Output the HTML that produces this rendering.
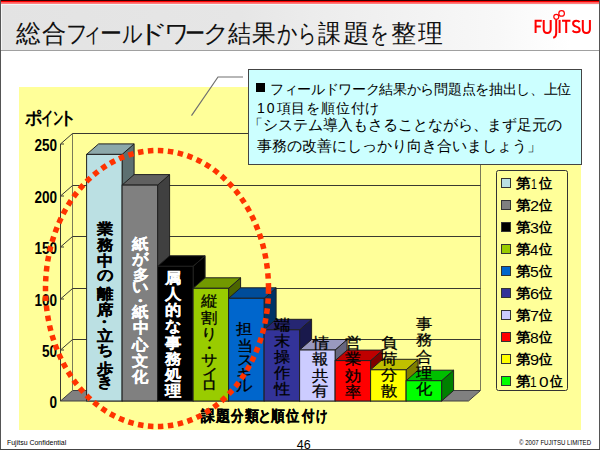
<!DOCTYPE html>
<html><head><meta charset="utf-8">
<style>
html,body{margin:0;padding:0;}
body{width:600px;height:450px;overflow:hidden;position:relative;background:#fff;font-family:"Liberation Sans",sans-serif;}
.abs{position:absolute;}
.fc{position:absolute;white-space:pre;transform-origin:0 0;color:#000;}
#hdr{position:absolute;left:0;top:0;width:600px;height:50px;background:linear-gradient(to right,#e3e3e3 0%,#e6e6e6 40%,#ececec 52%,#f8f8f8 83%,#ffffff 95%);}
#red{position:absolute;left:0;top:0;width:600px;height:6px;background:linear-gradient(#3a0000 0px,#3a0000 1px,#ff0000 1px,#ff0000 2.2px,#ff5a5a 2.2px,#ff8a8a 4px,#f2f8f8 4px,#f2f8f8 5px,rgba(255,255,255,0) 5px);}
#hline{position:absolute;left:0;top:49.6px;width:600px;height:1.6px;background:#a0a0a0;}
#lb{position:absolute;left:0;top:0;width:1px;height:450px;background:#555;}
#rb{position:absolute;left:599px;top:0;width:1px;height:450px;background:#555;}
#bb{position:absolute;left:0;top:449px;width:600px;height:1px;background:#444;}
#yel{position:absolute;left:19px;top:87px;width:562px;height:343px;background:#ffff99;}
#call{position:absolute;left:248px;top:69px;width:332px;height:94px;background:#ccffff;border:1px solid #444;}
.cl{position:absolute;white-space:nowrap;color:#000;}
.vc{position:absolute;white-space:pre;font-size:16px;line-height:16px;font-weight:bold;-webkit-text-stroke:0.25px currentColor;transform:scaleY(0.92);transform-origin:0 0;}
.sw{position:absolute;left:501.3px;width:7.3px;height:8.5px;border:1px solid #333;}
.ax{position:absolute;left:17px;width:40px;text-align:right;font-size:16.5px;line-height:16px;font-weight:bold;transform:scaleX(0.82);transform-origin:100% 0;}
</style></head><body>
<div id="hdr"></div>
<div id="red"></div>
<div id="hline"></div>
<div class="fc" style="left:15.50px;top:21.12px;font-size:25px;line-height:25px;font-weight:normal;transform:scaleX(0.990);color:#111">総</div><div class="fc" style="left:42.02px;top:21.12px;font-size:25px;line-height:25px;font-weight:normal;transform:scaleX(0.968);color:#111">合</div><div class="fc" style="left:66.25px;top:21.12px;font-size:25px;line-height:25px;font-weight:normal;transform:scaleX(0.857);color:#111">フ</div><div class="fc" style="left:82.26px;top:21.12px;font-size:25px;line-height:25px;font-weight:normal;transform:scaleX(0.807);color:#111">ィ</div><div class="fc" style="left:99.52px;top:21.12px;font-size:25px;line-height:25px;font-weight:normal;transform:scaleX(0.878);color:#111">ー</div><div class="fc" style="left:122.09px;top:21.12px;font-size:25px;line-height:25px;font-weight:normal;transform:scaleX(0.808);color:#111">ル</div><div class="fc" style="left:135.97px;top:21.12px;font-size:25px;line-height:25px;font-weight:normal;transform:scaleX(1.282);color:#111">ド</div><div class="fc" style="left:164.30px;top:21.12px;font-size:25px;line-height:25px;font-weight:normal;transform:scaleX(1.007);color:#111">ワ</div><div class="fc" style="left:184.69px;top:21.12px;font-size:25px;line-height:25px;font-weight:normal;transform:scaleX(0.805);color:#111">ー</div><div class="fc" style="left:203.29px;top:21.12px;font-size:25px;line-height:25px;font-weight:normal;transform:scaleX(1.032);color:#111">ク</div><div class="fc" style="left:227.82px;top:21.12px;font-size:25px;line-height:25px;font-weight:normal;transform:scaleX(0.929);color:#111">結</div><div class="fc" style="left:252.11px;top:21.12px;font-size:25px;line-height:25px;font-weight:normal;transform:scaleX(0.946);color:#111">果</div><div class="fc" style="left:276.79px;top:21.12px;font-size:25px;line-height:25px;font-weight:normal;transform:scaleX(0.808);color:#111">か</div><div class="fc" style="left:297.54px;top:21.12px;font-size:25px;line-height:25px;font-weight:normal;transform:scaleX(0.722);color:#111">ら</div><div class="fc" style="left:318.27px;top:21.12px;font-size:25px;line-height:25px;font-weight:normal;transform:scaleX(0.918);color:#111">課</div><div class="fc" style="left:342.90px;top:21.12px;font-size:25px;line-height:25px;font-weight:normal;transform:scaleX(1.067);color:#111">題</div><div class="fc" style="left:370.27px;top:21.12px;font-size:25px;line-height:25px;font-weight:normal;transform:scaleX(0.740);color:#111">を</div><div class="fc" style="left:390.94px;top:21.12px;font-size:25px;line-height:25px;font-weight:normal;transform:scaleX(1.008);color:#111">整</div><div class="fc" style="left:418.30px;top:21.12px;font-size:25px;line-height:25px;font-weight:normal;transform:scaleX(0.995);color:#111">理</div>
<div id="yel"></div>
<svg class="abs" style="left:0;top:0" width="600" height="450" viewBox="0 0 600 450">
<polygon points="60.5,401.0 468.5,401.0 480.5,390.5 72.5,390.5" fill="#808080" stroke="#404040" stroke-width="1"/>
<line x1="60.5" y1="144.0" x2="60.5" y2="401.0" stroke="#3a3a30" stroke-width="1"/>
<line x1="72.5" y1="133.5" x2="72.5" y2="390.5" stroke="#7a7a58" stroke-width="1"/>
<line x1="480.5" y1="133.5" x2="480.5" y2="390.5" stroke="#7a7a58" stroke-width="1"/>
<line x1="60.5" y1="350.0" x2="72.5" y2="339.5" stroke="#3a3a30" stroke-width="1"/>
<line x1="72.5" y1="339.5" x2="480.5" y2="339.5" stroke="#3a3a30" stroke-width="1"/>
<line x1="60.5" y1="350.0" x2="64.0" y2="350.0" stroke="#3a3a30" stroke-width="1"/>
<line x1="60.5" y1="299.0" x2="72.5" y2="288.5" stroke="#3a3a30" stroke-width="1"/>
<line x1="72.5" y1="288.5" x2="480.5" y2="288.5" stroke="#3a3a30" stroke-width="1"/>
<line x1="60.5" y1="299.0" x2="64.0" y2="299.0" stroke="#3a3a30" stroke-width="1"/>
<line x1="60.5" y1="247.0" x2="72.5" y2="236.5" stroke="#3a3a30" stroke-width="1"/>
<line x1="72.5" y1="236.5" x2="480.5" y2="236.5" stroke="#3a3a30" stroke-width="1"/>
<line x1="60.5" y1="247.0" x2="64.0" y2="247.0" stroke="#3a3a30" stroke-width="1"/>
<line x1="60.5" y1="196.0" x2="72.5" y2="185.5" stroke="#3a3a30" stroke-width="1"/>
<line x1="72.5" y1="185.5" x2="480.5" y2="185.5" stroke="#3a3a30" stroke-width="1"/>
<line x1="60.5" y1="196.0" x2="64.0" y2="196.0" stroke="#3a3a30" stroke-width="1"/>
<line x1="60.5" y1="144.0" x2="72.5" y2="133.5" stroke="#3a3a30" stroke-width="1"/>
<line x1="72.5" y1="133.5" x2="480.5" y2="133.5" stroke="#3a3a30" stroke-width="1"/>
<line x1="60.5" y1="144.0" x2="64.0" y2="144.0" stroke="#3a3a30" stroke-width="1"/>
<polygon points="122.1,154.4 134.1,143.9 134.1,390.5 122.1,401.0" fill="#5d7071" stroke="#202020" stroke-width="1" stroke-linejoin="round"/>
<polygon points="86.6,154.4 98.6,143.9 134.1,143.9 122.1,154.4" fill="#8ca8aa" stroke="#202020" stroke-width="1" stroke-linejoin="round"/>
<rect x="86.6" y="154.4" width="35.5" height="246.6" fill="#BBE0E3" stroke="#202020" stroke-width="1"/>
<polygon points="157.6,185.1 169.6,174.6 169.6,390.5 157.6,401.0" fill="#404040" stroke="#202020" stroke-width="1" stroke-linejoin="round"/>
<polygon points="122.1,185.1 134.1,174.6 169.6,174.6 157.6,185.1" fill="#606060" stroke="#202020" stroke-width="1" stroke-linejoin="round"/>
<rect x="122.1" y="185.1" width="35.5" height="215.9" fill="#808080" stroke="#202020" stroke-width="1"/>
<polygon points="193.1,266.3 205.1,255.8 205.1,390.5 193.1,401.0" fill="#000000" stroke="#202020" stroke-width="1" stroke-linejoin="round"/>
<polygon points="157.6,266.3 169.6,255.8 205.1,255.8 193.1,266.3" fill="#000000" stroke="#202020" stroke-width="1" stroke-linejoin="round"/>
<rect x="157.6" y="266.3" width="35.5" height="134.7" fill="#000000" stroke="#202020" stroke-width="1"/>
<polygon points="228.6,288.3 240.6,277.8 240.6,390.5 228.6,401.0" fill="#4c6600" stroke="#202020" stroke-width="1" stroke-linejoin="round"/>
<polygon points="193.1,288.3 205.1,277.8 240.6,277.8 228.6,288.3" fill="#729900" stroke="#202020" stroke-width="1" stroke-linejoin="round"/>
<rect x="193.1" y="288.3" width="35.5" height="112.69999999999999" fill="#99CC00" stroke="#202020" stroke-width="1"/>
<polygon points="264.1,298.3 276.1,287.8 276.1,390.5 264.1,401.0" fill="#003366" stroke="#202020" stroke-width="1" stroke-linejoin="round"/>
<polygon points="228.6,298.3 240.6,287.8 276.1,287.8 264.1,298.3" fill="#004c99" stroke="#202020" stroke-width="1" stroke-linejoin="round"/>
<rect x="228.6" y="298.3" width="35.5" height="102.69999999999999" fill="#0066CC" stroke="#202020" stroke-width="1"/>
<polygon points="299.6,329.8 311.6,319.3 311.6,390.5 299.6,401.0" fill="#19194c" stroke="#202020" stroke-width="1" stroke-linejoin="round"/>
<polygon points="264.1,329.8 276.1,319.3 311.6,319.3 299.6,329.8" fill="#262672" stroke="#202020" stroke-width="1" stroke-linejoin="round"/>
<rect x="264.1" y="329.8" width="35.5" height="71.19999999999999" fill="#333399" stroke="#202020" stroke-width="1"/>
<polygon points="335.1,350.0 347.1,339.5 347.1,390.5 335.1,401.0" fill="#66667f" stroke="#202020" stroke-width="1" stroke-linejoin="round"/>
<polygon points="299.6,350.0 311.6,339.5 347.1,339.5 335.1,350.0" fill="#9999bf" stroke="#202020" stroke-width="1" stroke-linejoin="round"/>
<rect x="299.6" y="350.0" width="35.5" height="51.0" fill="#CCCCFF" stroke="#202020" stroke-width="1"/>
<polygon points="370.6,360.6 382.6,350.1 382.6,390.5 370.6,401.0" fill="#7f0000" stroke="#202020" stroke-width="1" stroke-linejoin="round"/>
<polygon points="335.1,360.6 347.1,350.1 382.6,350.1 370.6,360.6" fill="#bf0000" stroke="#202020" stroke-width="1" stroke-linejoin="round"/>
<rect x="335.1" y="360.6" width="35.5" height="40.39999999999998" fill="#FF0000" stroke="#202020" stroke-width="1"/>
<polygon points="406.1,369.8 418.1,359.3 418.1,390.5 406.1,401.0" fill="#7f7f00" stroke="#202020" stroke-width="1" stroke-linejoin="round"/>
<polygon points="370.6,369.8 382.6,359.3 418.1,359.3 406.1,369.8" fill="#bfbf00" stroke="#202020" stroke-width="1" stroke-linejoin="round"/>
<rect x="370.6" y="369.8" width="35.5" height="31.19999999999999" fill="#FFFF00" stroke="#202020" stroke-width="1"/>
<polygon points="441.6,380.7 453.6,370.2 453.6,390.5 441.6,401.0" fill="#007f00" stroke="#202020" stroke-width="1" stroke-linejoin="round"/>
<polygon points="406.1,380.7 418.1,370.2 453.6,370.2 441.6,380.7" fill="#00bf00" stroke="#202020" stroke-width="1" stroke-linejoin="round"/>
<rect x="406.1" y="380.7" width="35.5" height="20.30000000000001" fill="#00FF00" stroke="#202020" stroke-width="1"/>
<rect x="496.5" y="170.5" width="71" height="220" rx="2" fill="none" stroke="#333" stroke-width="1"/>
<polyline points="191.5,115.6 218,77 243,77" fill="none" stroke="#707070" stroke-width="1.2"/>
</svg>
<div class="vc" style="left:96.72px;top:221.66px;color:#000;">業</div><div class="vc" style="left:96.79px;top:237.95px;color:#000;">務</div><div class="vc" style="left:97.22px;top:253.98px;color:#000;">中</div><div class="vc" style="left:96.60px;top:268.04px;color:#000;">の</div><div class="vc" style="left:96.72px;top:286.68px;color:#000;">離</div><div class="vc" style="left:96.91px;top:303.44px;color:#000;">席</div><div class="vc" style="left:96.41px;top:315.19px;color:#000;">・</div><div class="vc" style="left:96.85px;top:328.84px;color:#000;">立</div><div class="vc" style="left:96.85px;top:342.95px;color:#000;">ち</div><div class="vc" style="left:96.85px;top:361.68px;color:#000;">歩</div><div class="vc" style="left:97.04px;top:374.70px;color:#000;">き</div>
<div class="vc" style="left:132.45px;top:236.56px;color:#fff;">紙</div><div class="vc" style="left:131.89px;top:252.18px;color:#fff;">が</div><div class="vc" style="left:132.51px;top:267.78px;color:#fff;">多</div><div class="vc" style="left:131.89px;top:279.70px;color:#fff;">い</div><div class="vc" style="left:132.01px;top:294.19px;color:#fff;">・</div><div class="vc" style="left:132.45px;top:304.87px;color:#fff;">紙</div><div class="vc" style="left:132.82px;top:321.18px;color:#fff;">中</div><div class="vc" style="left:132.39px;top:337.84px;color:#fff;">心</div><div class="vc" style="left:132.45px;top:353.81px;color:#fff;">文</div><div class="vc" style="left:132.32px;top:369.55px;color:#fff;">化</div>
<div class="vc" style="left:165.00px;top:270.61px;color:#fff;">属</div><div class="vc" style="left:164.69px;top:286.92px;color:#fff;">人</div><div class="vc" style="left:164.69px;top:303.24px;color:#fff;">的</div><div class="vc" style="left:164.81px;top:318.63px;color:#fff;">な</div><div class="vc" style="left:164.69px;top:335.98px;color:#fff;">事</div><div class="vc" style="left:164.69px;top:351.95px;color:#fff;">務</div><div class="vc" style="left:164.81px;top:367.69px;color:#fff;">処</div><div class="vc" style="left:164.81px;top:384.12px;color:#fff;">理</div>
<div class="vc" style="left:201.38px;top:293.69px;color:#000;font-weight:normal;-webkit-text-stroke:0.3px currentColor;">縦</div><div class="vc" style="left:201.31px;top:310.56px;color:#000;font-weight:normal;-webkit-text-stroke:0.3px currentColor;">割</div><div class="vc" style="left:201.31px;top:327.27px;color:#000;font-weight:normal;-webkit-text-stroke:0.3px currentColor;">り</div><div class="vc" style="left:200.81px;top:341.13px;color:#000;font-weight:normal;-webkit-text-stroke:0.3px currentColor;">・</div><div class="vc" style="left:201.12px;top:352.64px;color:#000;font-weight:normal;-webkit-text-stroke:0.3px currentColor;">サ</div><div class="vc" style="left:201.69px;top:366.87px;color:#000;font-weight:normal;-webkit-text-stroke:0.3px currentColor;">イ</div><div class="vc" style="left:201.06px;top:378.06px;color:#000;font-weight:normal;-webkit-text-stroke:0.3px currentColor;">ロ</div>
<div class="vc" style="left:236.45px;top:321.79px;color:#000;font-weight:normal;-webkit-text-stroke:0.3px currentColor;">担</div><div class="vc" style="left:236.64px;top:338.62px;color:#000;font-weight:normal;-webkit-text-stroke:0.3px currentColor;">当</div><div class="vc" style="left:236.57px;top:352.57px;color:#000;font-weight:normal;-webkit-text-stroke:0.3px currentColor;">ス</div><div class="vc" style="left:236.45px;top:366.95px;color:#000;font-weight:normal;-webkit-text-stroke:0.3px currentColor;">キ</div><div class="vc" style="left:236.01px;top:378.75px;color:#000;font-weight:normal;-webkit-text-stroke:0.3px currentColor;">ル</div>
<div class="vc" style="left:273.88px;top:318.34px;color:#000;font-weight:normal;-webkit-text-stroke:0.3px currentColor;">端</div><div class="vc" style="left:273.69px;top:334.34px;color:#000;font-weight:normal;-webkit-text-stroke:0.3px currentColor;">末</div><div class="vc" style="left:273.81px;top:349.99px;color:#000;font-weight:normal;-webkit-text-stroke:0.3px currentColor;">操</div><div class="vc" style="left:273.81px;top:365.88px;color:#000;font-weight:normal;-webkit-text-stroke:0.3px currentColor;">作</div><div class="vc" style="left:274.00px;top:382.22px;color:#000;font-weight:normal;-webkit-text-stroke:0.3px currentColor;">性</div>
<div class="vc" style="left:312.54px;top:336.14px;color:#000;font-weight:normal;-webkit-text-stroke:0.3px currentColor;">情</div><div class="vc" style="left:312.35px;top:352.22px;color:#000;font-weight:normal;-webkit-text-stroke:0.3px currentColor;">報</div><div class="vc" style="left:312.29px;top:368.54px;color:#000;font-weight:normal;-webkit-text-stroke:0.3px currentColor;">共</div><div class="vc" style="left:312.29px;top:384.39px;color:#000;font-weight:normal;-webkit-text-stroke:0.3px currentColor;">有</div>
<div class="vc" style="left:344.79px;top:336.14px;color:#000;font-weight:normal;-webkit-text-stroke:0.3px currentColor;">営</div><div class="vc" style="left:344.91px;top:352.34px;color:#000;font-weight:normal;-webkit-text-stroke:0.3px currentColor;">業</div><div class="vc" style="left:345.10px;top:368.54px;color:#000;font-weight:normal;-webkit-text-stroke:0.3px currentColor;">効</div><div class="vc" style="left:344.79px;top:385.08px;color:#000;font-weight:normal;-webkit-text-stroke:0.3px currentColor;">率</div>
<div class="vc" style="left:380.88px;top:336.02px;color:#000;font-weight:normal;-webkit-text-stroke:0.3px currentColor;">負</div><div class="vc" style="left:381.19px;top:352.34px;color:#000;font-weight:normal;-webkit-text-stroke:0.3px currentColor;">荷</div><div class="vc" style="left:381.25px;top:368.31px;color:#000;font-weight:normal;-webkit-text-stroke:0.3px currentColor;">分</div><div class="vc" style="left:381.19px;top:384.16px;color:#000;font-weight:normal;-webkit-text-stroke:0.3px currentColor;">散</div>
<div class="vc" style="left:415.99px;top:317.44px;color:#000;font-weight:normal;-webkit-text-stroke:0.3px currentColor;">事</div><div class="vc" style="left:415.99px;top:333.39px;color:#000;font-weight:normal;-webkit-text-stroke:0.3px currentColor;">務</div><div class="vc" style="left:415.99px;top:350.04px;color:#000;font-weight:normal;-webkit-text-stroke:0.3px currentColor;">合</div><div class="vc" style="left:416.05px;top:365.99px;color:#000;font-weight:normal;-webkit-text-stroke:0.3px currentColor;">理</div><div class="vc" style="left:415.80px;top:382.41px;color:#000;font-weight:normal;-webkit-text-stroke:0.3px currentColor;">化</div>
<div class="sw" style="top:177.80px;background:#BBE0E3"></div>
<div class="fc" style="left:515.63px;top:175.72px;font-size:14px;line-height:14px;font-weight:bold;transform:scaleX(1.052);">第</div><div class="fc" style="left:530.53px;top:175.82px;font-size:15.5px;line-height:15.5px;font-weight:normal;transform:scaleX(0.681);">1</div><div class="fc" style="left:538.66px;top:175.72px;font-size:14px;line-height:14px;font-weight:bold;transform:scaleX(0.949);">位</div>
<div class="sw" style="top:199.78px;background:#808080"></div>
<div class="fc" style="left:515.63px;top:197.70px;font-size:14px;line-height:14px;font-weight:bold;transform:scaleX(1.052);">第</div><div class="fc" style="left:530.01px;top:197.93px;font-size:15.5px;line-height:15.5px;font-weight:normal;transform:scaleX(1.053);">2</div><div class="fc" style="left:538.66px;top:197.70px;font-size:14px;line-height:14px;font-weight:bold;transform:scaleX(0.949);">位</div>
<div class="sw" style="top:221.76px;background:#000000"></div>
<div class="fc" style="left:515.63px;top:219.69px;font-size:14px;line-height:14px;font-weight:bold;transform:scaleX(1.052);">第</div><div class="fc" style="left:530.15px;top:219.91px;font-size:15.5px;line-height:15.5px;font-weight:normal;transform:scaleX(1.034);">3</div><div class="fc" style="left:538.66px;top:219.69px;font-size:14px;line-height:14px;font-weight:bold;transform:scaleX(0.949);">位</div>
<div class="sw" style="top:243.74px;background:#99CC00"></div>
<div class="fc" style="left:515.63px;top:241.66px;font-size:14px;line-height:14px;font-weight:bold;transform:scaleX(1.052);">第</div><div class="fc" style="left:530.44px;top:241.76px;font-size:15.5px;line-height:15.5px;font-weight:normal;transform:scaleX(0.968);">4</div><div class="fc" style="left:538.66px;top:241.66px;font-size:14px;line-height:14px;font-weight:bold;transform:scaleX(0.949);">位</div>
<div class="sw" style="top:265.72px;background:#0066CC"></div>
<div class="fc" style="left:515.63px;top:263.64px;font-size:14px;line-height:14px;font-weight:bold;transform:scaleX(1.052);">第</div><div class="fc" style="left:530.16px;top:263.75px;font-size:15.5px;line-height:15.5px;font-weight:normal;transform:scaleX(1.017);">5</div><div class="fc" style="left:538.66px;top:263.64px;font-size:14px;line-height:14px;font-weight:bold;transform:scaleX(0.949);">位</div>
<div class="sw" style="top:287.70px;background:#333399"></div>
<div class="fc" style="left:515.63px;top:285.62px;font-size:14px;line-height:14px;font-weight:bold;transform:scaleX(1.052);">第</div><div class="fc" style="left:530.01px;top:285.85px;font-size:15.5px;line-height:15.5px;font-weight:normal;transform:scaleX(1.053);">6</div><div class="fc" style="left:538.66px;top:285.62px;font-size:14px;line-height:14px;font-weight:bold;transform:scaleX(0.949);">位</div>
<div class="sw" style="top:309.68px;background:#CCCCFF"></div>
<div class="fc" style="left:515.63px;top:307.61px;font-size:14px;line-height:14px;font-weight:bold;transform:scaleX(1.052);">第</div><div class="fc" style="left:530.01px;top:307.71px;font-size:15.5px;line-height:15.5px;font-weight:normal;transform:scaleX(1.053);">7</div><div class="fc" style="left:538.66px;top:307.61px;font-size:14px;line-height:14px;font-weight:bold;transform:scaleX(0.949);">位</div>
<div class="sw" style="top:331.66px;background:#FF0000"></div>
<div class="fc" style="left:515.63px;top:329.59px;font-size:14px;line-height:14px;font-weight:bold;transform:scaleX(1.052);">第</div><div class="fc" style="left:530.16px;top:329.81px;font-size:15.5px;line-height:15.5px;font-weight:normal;transform:scaleX(1.017);">8</div><div class="fc" style="left:538.66px;top:329.59px;font-size:14px;line-height:14px;font-weight:bold;transform:scaleX(0.949);">位</div>
<div class="sw" style="top:353.64px;background:#FFFF00"></div>
<div class="fc" style="left:515.63px;top:351.56px;font-size:14px;line-height:14px;font-weight:bold;transform:scaleX(1.052);">第</div><div class="fc" style="left:530.01px;top:351.79px;font-size:15.5px;line-height:15.5px;font-weight:normal;transform:scaleX(1.053);">9</div><div class="fc" style="left:538.66px;top:351.56px;font-size:14px;line-height:14px;font-weight:bold;transform:scaleX(0.949);">位</div>
<div class="sw" style="top:375.62px;background:#00FF00"></div>
<div class="fc" style="left:515.63px;top:373.54px;font-size:14px;line-height:14px;font-weight:bold;transform:scaleX(1.052);">第</div><div class="fc" style="left:530.43px;top:373.64px;font-size:15.5px;line-height:15.5px;font-weight:normal;transform:scaleX(0.770);">1</div><div class="fc" style="left:539.31px;top:373.77px;font-size:15.5px;line-height:15.5px;font-weight:normal;transform:scaleX(1.112);">0</div><div class="fc" style="left:549.64px;top:373.54px;font-size:14px;line-height:14px;font-weight:bold;transform:scaleX(0.913);">位</div>
<div class="ax" style="top:394.4px">0</div>
<div class="ax" style="top:343.0px">50</div>
<div class="ax" style="top:291.6px">100</div>
<div class="ax" style="top:240.2px">150</div>
<div class="ax" style="top:188.8px">200</div>
<div class="ax" style="top:137.4px">250</div>
<div class="fc" style="left:24.80px;top:109.05px;font-size:18px;line-height:18px;font-weight:bold;transform:scaleX(0.966);">ポ</div><div class="fc" style="left:41.27px;top:109.05px;font-size:18px;line-height:18px;font-weight:bold;transform:scaleX(0.691);">イ</div><div class="fc" style="left:52.77px;top:109.05px;font-size:18px;line-height:18px;font-weight:bold;transform:scaleX(0.570);">ン</div><div class="fc" style="left:59.01px;top:109.05px;font-size:18px;line-height:18px;font-weight:bold;transform:scaleX(0.975);">ト</div>
<div class="fc" style="left:200.82px;top:407.98px;font-size:15px;line-height:15px;font-weight:bold;transform:scaleX(0.926);-webkit-text-stroke:0.3px #000">課</div><div class="fc" style="left:216.04px;top:407.98px;font-size:15px;line-height:15px;font-weight:bold;transform:scaleX(0.949);-webkit-text-stroke:0.3px #000">題</div><div class="fc" style="left:231.31px;top:407.98px;font-size:15px;line-height:15px;font-weight:bold;transform:scaleX(0.833);-webkit-text-stroke:0.3px #000">分</div><div class="fc" style="left:245.35px;top:407.98px;font-size:15px;line-height:15px;font-weight:bold;transform:scaleX(0.926);-webkit-text-stroke:0.3px #000">類</div><div class="fc" style="left:257.90px;top:407.98px;font-size:15px;line-height:15px;font-weight:bold;transform:scaleX(0.886);-webkit-text-stroke:0.3px #000">と</div><div class="fc" style="left:271.14px;top:407.98px;font-size:15px;line-height:15px;font-weight:bold;transform:scaleX(0.912);-webkit-text-stroke:0.3px #000">順</div><div class="fc" style="left:286.34px;top:407.98px;font-size:15px;line-height:15px;font-weight:bold;transform:scaleX(0.879);-webkit-text-stroke:0.3px #000">位</div><div class="fc" style="left:301.62px;top:407.98px;font-size:15px;line-height:15px;font-weight:bold;transform:scaleX(0.826);-webkit-text-stroke:0.3px #000">付</div><div class="fc" style="left:316.13px;top:407.98px;font-size:15px;line-height:15px;font-weight:bold;transform:scaleX(0.762);-webkit-text-stroke:0.3px #000">け</div>
<div id="call"></div>
<div class="cl" style="left:256px;top:80.5px;font-size:14px;line-height:16px;letter-spacing:-0.32px"><span style="display:inline-block;width:14px"></span>フィールドワーク結果から問題点を抽出し、上位</div>
<div class="abs" style="left:256.3px;top:83.4px;width:9px;height:8.4px;background:#000"></div>
<div class="cl" style="left:257px;top:100px;font-size:14px;line-height:16px;letter-spacing:0.8px"><span style="letter-spacing:2px">10</span>項目を順位付け</div>
<div class="cl" style="left:248.3px;top:116px;font-size:15px;line-height:18px;letter-spacing:-0.05px">「システム導入もさることながら、まず足元の</div>
<div class="cl" style="left:257px;top:136.6px;font-size:15px;line-height:18px;letter-spacing:0px">事務の改善にしっかり向き合いましょう」</div>
<svg class="abs" style="left:0;top:0" width="600" height="450" viewBox="0 0 600 450">
<ellipse cx="157" cy="288.5" rx="111.5" ry="138" fill="none" stroke="#ff3300" stroke-width="5.5" stroke-dasharray="5.5 4.5"/>
</svg>
<svg class="abs" style="left:0;top:0" width="600" height="50" viewBox="0 0 600 50">
<g fill="none" stroke="#f00" stroke-width="2.0" stroke-linecap="butt">
<path d="M535.6,33 V20.8 H541.8 M535.6,26.4 H540.8"/>
<path d="M543.7,19.9 V29.2 Q543.7,32.9 547.2,32.9 Q550.7,32.9 550.7,29.2 V19.9"/>
<path d="M556.2,19.9 V33.2 Q556.2,37 553.2,37.8"/>
<path d="M559.6,19.9 V33"/>
<path d="M562,20.8 H570.4 M566.2,20.8 V33"/>
<path d="M579.6,22.2 Q578.6,20.8 576.3,20.8 Q573.1,20.8 573.1,23.5 Q573.1,25.8 576.3,26.6 Q579.7,27.4 579.7,30 Q579.7,32.3 576.3,32.3 Q573.6,32.3 572.6,30.6"/>
<path d="M582.8,19.9 V29.2 Q582.8,32.9 586.4,32.9 Q589.9,32.9 589.9,29.2 V19.9"/>
</g>
<g fill="none" stroke="#f00" stroke-width="1.2">
<circle cx="556.3" cy="16.8" r="2.5"/>
<circle cx="561.6" cy="13.4" r="2.8"/>
</g>
</svg>
<div class="abs" style="left:6.6px;top:438px;font-size:8px;line-height:10px;white-space:nowrap;transform:scaleX(0.87);transform-origin:0 0">Fujitsu Confidential</div>
<div class="abs" style="left:296.8px;top:439px;font-size:12.5px;line-height:13px;">46</div>
<div class="abs" style="left:518.5px;top:438px;font-size:8px;line-height:10px;white-space:nowrap;transform:scaleX(0.76);transform-origin:0 0">© 2007 FUJITSU LIMITED</div>
<div class="abs" style="left:1px;top:4px;width:1px;height:46px;background:#f6f6f6"></div><div id="lb"></div><div id="rb"></div><div id="bb"></div>
</body></html>
